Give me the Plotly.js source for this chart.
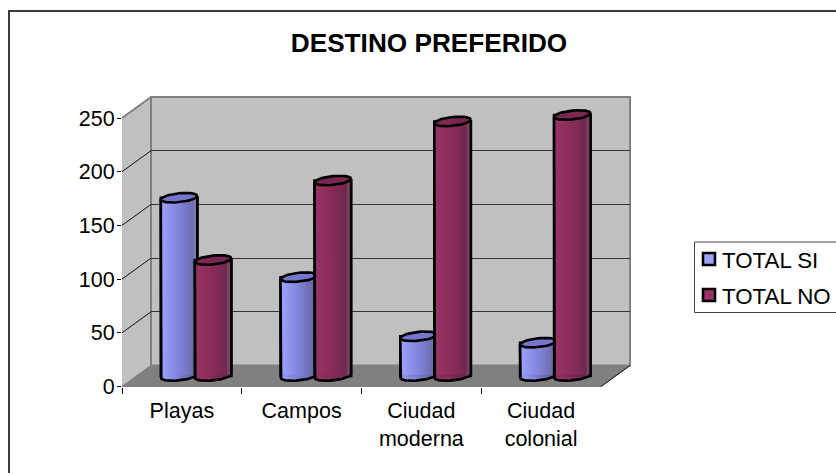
<!DOCTYPE html>
<html><head><meta charset="utf-8">
<script src="https://cdn.plot.ly/plotly-3.0.1.min.js"></script>
<style>html,body{margin:0;padding:0;background:#fff}#c{width:836px;height:473px}</style>
</head><body><div id="c"></div>
<script>
const categories = ['Playas','Campos','Ciudad moderna','Ciudad colonial'];
const tickLabels = ['Playas','Campos','Ciudad<br>moderna','Ciudad<br>colonial'];
const totalSi = [166, 92, 37, 31];
const totalNo = [108, 182, 237, 243];
const axisTicks = [0,50,100,150,200,250];
const seriesNames = ['TOTAL SI','TOTAL NO'];

const W=836,H=473;
const fx0=122,fx1=601,fy0=386.5,fy1=118,dx=29,dy=-21;
const px=x=>x/W, py=y=>1-y/H;
const pxPerVal=(fy0-fy1)/250, pxPerCat=(fx1-fx0)/4;
const catIdx=categories.map((_,i)=>i);

function hexLerp(a,b,t){const p=h=>[1,3,5].map(i=>parseInt(h.substr(i,2),16));const A=p(a),B=p(b);
  return 'rgb('+A.map((v,i)=>Math.round(v+(B[i]-v)*t)).join(',')+')';}

const cylW=36.5/pxPerCat, rx=cylW/2, ryV=4.4/pxPerVal, tiltV=1.8/pxPerVal;
const strips=18, edgeW=2.6;
function ell(cx,v,t){return [cx+rx*Math.cos(t), v+ryV*Math.sin(t)+tiltV*Math.cos(t)];}

const traces=[];
[['x','y'],['x2','y2']].forEach(a=>traces.push({type:'scatter',mode:'markers',x:categories,y:totalSi,xaxis:a[0],yaxis:a[1],
  marker:{opacity:0},showlegend:false,hoverinfo:'skip'}));

function addSeries(name,vals,off,colL,colM,colR,colE,capCol,z){
  traces.push({type:'bar',name:name,x:catIdx,y:vals,xaxis:'x3',yaxis:'y3',width:cylW,offset:off,zorder:z,
    legendgroup:name,marker:{color:colL,line:{color:'#000',width:edgeW}},hoverinfo:'skip'});
  for(let s=0;s<strips;s++){
    const u=(s+.5)/strips, c=2*u-1, sn=Math.sqrt(1-c*c);
    const col=u>.88?colE:(u<.55?hexLerp(colL,colM,u/.55):hexLerp(colM,colR,(u-.55)/.33));
    const base=-ryV*sn+tiltV*c;
    traces.push({type:'bar',x:catIdx,y:vals.map(v=>v+ryV*sn),base:vals.map(()=>base),xaxis:'x3',yaxis:'y3',
      width:cylW/strips+0.0012,offset:off+u*cylW-cylW/strips/2,zorder:z,marker:{color:col,line:{width:0}},showlegend:false,hoverinfo:'skip',legendgroup:name});
  }
  vals.forEach((v,i)=>{
    const cx=i+off+cylW/2;
    const xs=[cx-rx],ys=[v-tiltV];
    for(let k=0;k<=40;k++){const p=ell(cx,0,Math.PI+Math.PI*k/40);xs.push(p[0]);ys.push(p[1]);}
    xs.push(cx+rx);ys.push(v+tiltV);
    traces.push({type:'scatter',mode:'lines',x:xs,y:ys,xaxis:'x3',yaxis:'y3',zorder:z,line:{color:'#000',width:edgeW},showlegend:false,hoverinfo:'skip',legendgroup:name});
    const cxs=[],cys=[];
    for(let k=0;k<=48;k++){const p=ell(cx,v,2*Math.PI*k/48);cxs.push(p[0]);cys.push(p[1]);}
    traces.push({type:'scatter',mode:'lines',x:cxs,y:cys,xaxis:'x3',yaxis:'y3',zorder:z,fill:'toself',fillcolor:capCol,line:{color:'#000',width:edgeW},showlegend:false,hoverinfo:'skip',legendgroup:name});
  });
}
addSeries(seriesNames[0],totalSi,-0.297,'#9fa3ff','#7c7fd2','#686aa8','#7375ad','#7676cc',1);
addSeries(seriesNames[1],totalNo,-0.013,'#9b3366','#842b57','#6c2a4d','#7c3f60','#7a2850',2);

function axisPair(ox,oy){return {
  x:{domain:[px(fx0+ox),px(fx1+ox)],range:[-0.5,3.5]},
  y:{domain:[py(fy0+oy),py(fy1+oy)],range:[0,250]}};}
const back=axisPair(dx,dy),front=axisPair(0,0),mid=axisPair(dx/2,dy/2);
const extraPx=14;
const hiddenX=d=>({domain:d,range:[-0.5,3.5],visible:false,fixedrange:true});

const poly=(pts,fill,lc,lw)=>({type:'path',xref:'paper',yref:'paper',layer:'below',
  path:'M'+pts.map(p=>px(p[0])+','+py(p[1])).join('L')+'Z',fillcolor:fill,line:{color:lc,width:lw}});
const seg=(a,b,c,w)=>({type:'line',xref:'paper',yref:'paper',layer:'below',x0:px(a[0]),y0:py(a[1]),x1:px(b[0]),y1:py(b[1]),line:{color:c,width:w}});

const shapes=[
  {type:'rect',xref:'paper',yref:'paper',layer:'below',x0:px(9),y0:py(11),x1:px(845),y1:py(485),line:{color:'#3a3a3a',width:2},fillcolor:'#fff'},
  poly([[fx0,fy1],[fx0+dx,fy1+dy],[fx0+dx,fy0+dy],[fx0,fy0]],'#c0c0c0','#c0c0c0',0),
  poly([[fx0+dx,fy1+dy],[fx1+dx,fy1+dy],[fx1+dx,fy0+dy],[fx0+dx,fy0+dy]],'#c0c0c0','#808080',2),
  poly([[fx0,fy0],[fx1,fy0],[fx1+dx,fy0+dy],[fx0+dx,fy0+dy]],'#808080','#808080',1),
  seg([fx0,fy1],[fx0+dx,fy1+dy],'#808080',2),
  seg([fx1,fy0],[fx1+dx,fy0+dy],'#111',1),
  seg([fx0,fy0],[fx0+dx,fy0+dy],'#808080',1)
];
axisTicks.slice(1,-1).forEach(t=>{const y=fy0-t*pxPerVal;shapes.push(seg([fx0,y],[fx0+dx,y+dy],'#111',1));});
shapes.push({type:'rect',xref:'paper',yref:'paper',layer:'below',x0:px(694.5),y0:py(242),x1:px(845),y1:py(312.5),line:{color:'#444',width:1},fillcolor:'#fff'});

const layout={
  width:W,height:H,margin:{l:0,r:0,t:0,b:0,autoexpand:false},paper_bgcolor:'#fff',plot_bgcolor:'rgba(0,0,0,0)',
  font:{family:'"Liberation Sans",Arial,sans-serif',color:'#000',size:21},
  title:{text:'DESTINO PREFERIDO',font:{size:26.2,family:'"Liberation Sans",Arial,sans-serif',weight:'bold',color:'#000'},
    xref:'paper',yref:'paper',x:429/W,y:py(43),xanchor:'center',yanchor:'middle'},
  barmode:'overlay',showlegend:true,
  legend:{x:px(682),y:py(238),xanchor:'left',yanchor:'top',bgcolor:'rgba(0,0,0,0)',borderwidth:0,traceorder:'grouped',tracegroupgap:4,itemclick:false,itemdoubleclick:false,font:{size:22.3}},
  xaxis:Object.assign(hiddenX(back.x.domain),{anchor:'y'}),
  yaxis:{domain:back.y.domain,range:[0,250],anchor:'x',fixedrange:true,showline:false,ticks:'',showticklabels:false,zeroline:false,showgrid:true,gridcolor:'#333',gridwidth:1,tickmode:'array',tickvals:axisTicks.slice(1,-1)},
  xaxis2:{domain:front.x.domain,range:[-0.5,3.5],anchor:'y2',fixedrange:true,type:'category',tickmode:'array',tickvals:categories,ticktext:tickLabels,categoryorder:'array',categoryarray:categories,tickson:'boundaries',ticks:'outside',ticklen:6,tickcolor:'#000',tickwidth:1,showline:true,linecolor:'#000',linewidth:1,showgrid:false,zeroline:false,tickfont:{size:21.5},ticklabelstandoff:5,automargin:false},
  yaxis2:{domain:front.y.domain,range:[0,250],anchor:'x2',fixedrange:true,tickmode:'array',tickvals:axisTicks,ticks:'outside',ticklen:4,tickcolor:'#000',tickwidth:1,showline:true,linecolor:'#000',linewidth:1,showgrid:false,zeroline:false,tickfont:{size:21.5},ticklabelstandoff:-2,automargin:false},
  xaxis3:Object.assign(hiddenX(mid.x.domain),{anchor:'y3'}),
  yaxis3:{domain:[py(fy0+dy/2+extraPx),mid.y.domain[1]],range:[-extraPx/pxPerVal,250],anchor:'x3',fixedrange:true,visible:false},
  shapes:shapes
};
Plotly.newPlot('c',traces,layout,{staticPlot:true,displayModeBar:false}).then(gd=>{
  document.querySelectorAll('#c .legend .legendsymbols').forEach(n=>n.setAttribute('transform','translate(7,0)'));
});
</script></body></html>
